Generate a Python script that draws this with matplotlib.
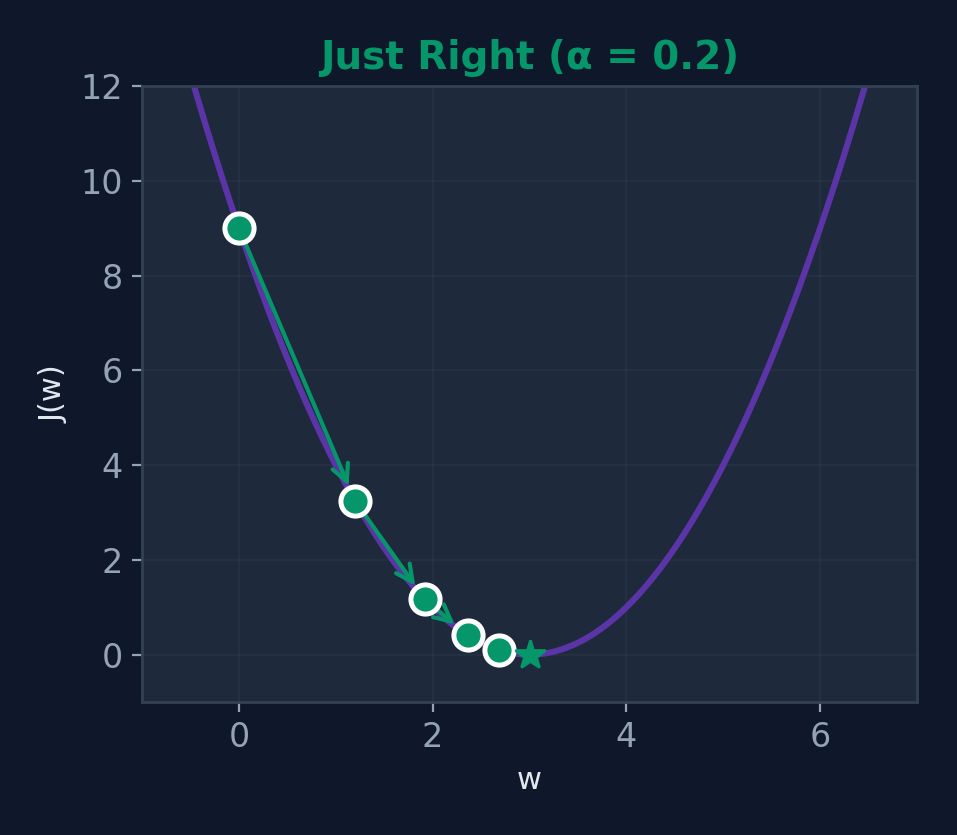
import numpy as np
import matplotlib
matplotlib.use("Agg")
import matplotlib.pyplot as plt

# gradient descent on J(w) = (w - 3)^2 with alpha = 0.2
w_steps = [0.0, 1.2, 1.92, 2.36, 2.69]
j_steps = [9.0, 3.24, 1.1664, 0.41, 0.096]
w_min, j_min = 3.0, 0.0
title = "Just Right (α = 0.2)"

BG = "#0f172a"
PANEL = "#1e293b"
EDGE = "#334155"
TICK = "#94a3b8"
LABEL = "#e2e8f0"
GREEN = "#059669"
PURPLE = "#5b35a8"

fig = plt.figure(figsize=(957 / 200, 835 / 200), dpi=200, facecolor=BG)
ax = fig.add_axes([0.1484, 0.1593, 0.8098, 0.7377], facecolor=PANEL)

w = np.linspace(-1, 7, 400)
ax.plot(w, (w - 3) ** 2, color=PURPLE, lw=2.2, zorder=2)

for i in range(len(w_steps) - 1):
    ax.annotate("", xy=(w_steps[i + 1], j_steps[i + 1]), xytext=(w_steps[i], j_steps[i]),
                arrowprops=dict(arrowstyle="->", color=GREEN, lw=1.5,
                                shrinkA=0, shrinkB=6, mutation_scale=15),
                zorder=3)

ax.plot(w_steps, j_steps, "o", ms=10.5, mfc=GREEN, mec="white", mew=1.8,
        ls="none", zorder=4)
ax.plot([w_min], [j_min], "*", ms=11, color=GREEN, zorder=5)

ax.set_xlim(-1, 7)
ax.set_ylim(-1, 12)
ax.set_xticks([0, 2, 4, 6])
ax.set_yticks([0, 2, 4, 6, 8, 10, 12])
ax.grid(True, color=EDGE, alpha=0.35, lw=0.6)
ax.set_axisbelow(True)
for s in ax.spines.values():
    s.set_color(EDGE)
    s.set_linewidth(1.0)
ax.tick_params(colors=TICK, labelsize=12)

ax.set_xlabel("w", color=LABEL, fontsize=11)
ax.set_ylabel("J(w)", color=LABEL, fontsize=11)
ax.set_title(title, color=GREEN, fontsize=14, fontweight="bold")

fig.savefig("out.png", dpi=200, facecolor=BG)
